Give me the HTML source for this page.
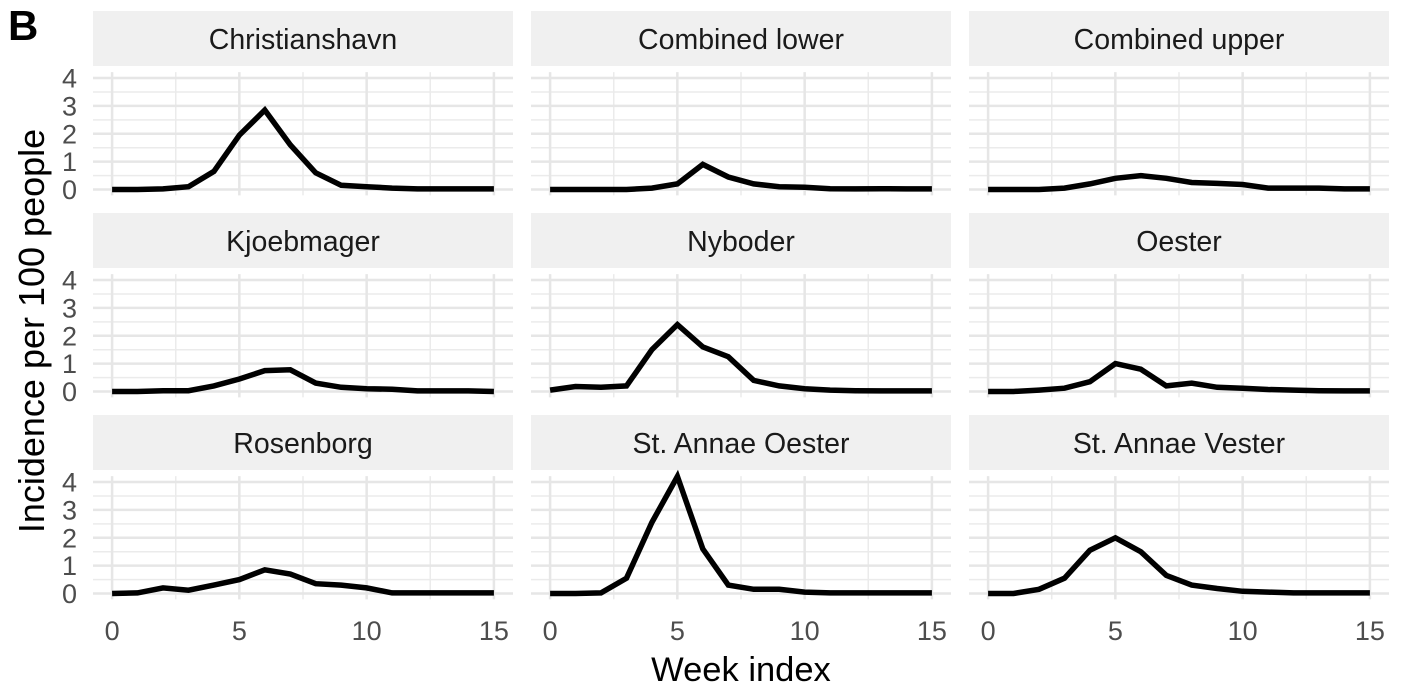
<!DOCTYPE html>
<html><head><meta charset="utf-8">
<style>
html,body{margin:0;padding:0;background:#fff;}
svg{display:block;font-family:"Liberation Sans",Arial,sans-serif;}
</style></head>
<body>
<svg id="chart" width="1412" height="688" viewBox="0 0 1412 688">
<text x="8" y="40" font-size="42" font-weight="bold" fill="#000">B</text>
<text transform="translate(44,331) rotate(-90)" text-anchor="middle" font-size="36" fill="#000">Incidence per 100 people</text>
<text x="741" y="681" text-anchor="middle" font-size="34.5" fill="#000">Week index</text>
<g id="panels"></g>
</svg>
<script>
const facetNames = ["Christianshavn","Combined lower","Combined upper","Kjoebmager","Nyboder","Oester","Rosenborg","St. Annae Oester","St. Annae Vester"];
const weeks = [0,1,2,3,4,5,6,7,8,9,10,11,12,13,14,15];
const christianshavn = [0,0,0.02,0.1,0.65,1.95,2.85,1.6,0.6,0.15,0.1,0.05,0.02,0.02,0.02,0.02];
const combinedLower = [0,0,0,0,0.05,0.2,0.9,0.45,0.2,0.1,0.08,0.03,0.02,0.03,0.02,0.02];
const combinedUpper = [0,0,0,0.05,0.2,0.4,0.5,0.4,0.25,0.22,0.18,0.05,0.05,0.05,0.02,0.02];
const kjoebmager = [0,0,0.03,0.03,0.2,0.45,0.75,0.78,0.3,0.15,0.1,0.08,0.02,0.02,0.02,0];
const nyboder = [0.05,0.18,0.15,0.2,1.5,2.4,1.6,1.25,0.4,0.2,0.1,0.05,0.03,0.02,0.02,0.02];
const oester = [0,0,0.05,0.12,0.35,1.0,0.8,0.2,0.3,0.15,0.12,0.07,0.05,0.03,0.02,0.02];
const rosenborg = [0,0.02,0.2,0.12,0.3,0.5,0.85,0.7,0.35,0.3,0.2,0.02,0.02,0.02,0.02,0.02];
const stAnnaeOester = [0,0,0.02,0.55,2.55,4.2,1.6,0.3,0.15,0.15,0.05,0.02,0.02,0.02,0.02,0.02];
const stAnnaeVester = [0,0,0.15,0.55,1.55,2.0,1.5,0.65,0.3,0.18,0.08,0.05,0.02,0.02,0.02,0.02];
const seriesList = [christianshavn,combinedLower,combinedUpper,kjoebmager,nyboder,oester,rosenborg,stAnnaeOester,stAnnaeVester];
const yTicks = [0,1,2,3,4];
const xTicks = [0,5,10,15];

const NS = "http://www.w3.org/2000/svg";
const root = document.getElementById("panels");
function mk(tag, attrs, parent){const e=document.createElementNS(NS,tag);for(const k in attrs)e.setAttribute(k,attrs[k]);parent.appendChild(e);return e;}

const colLeft = [93,531,969], panelW = 420;
const stripTop = [11,213,415], stripH = 55;
const xMin=-0.75, xMax=15.75, yMin=-0.21, yMax=4.21;

facetNames.forEach((name,i)=>{
  const c=i%3, r=Math.floor(i/3);
  const L=colLeft[c], R=L+panelW;
  const y0=stripTop[r]+178.5, y4=stripTop[r]+67;
  const unitY=(y0-y4)/4;
  const yTop=y0-(yMax)*unitY, yBot=y0-(yMin)*unitY;
  const xs=v=>L+(v-xMin)/(xMax-xMin)*panelW;
  const ys=v=>y0-v*unitY;
  const g=mk("g",{},root);
  
  
  const strip=mk("rect",{x:L,y:stripTop[r],width:panelW,height:stripH,fill:"#f0f0f0"},g);
  
  
  const st=mk("text",{x:(L+R)/2,y:stripTop[r]+38,"text-anchor":"middle","font-size":"28.5",fill:"#1a1a1a"},g);
  st.textContent=name;
  
  
  for(let v=0.5;v<4.3;v+=1){mk("line",{x1:L,x2:R,y1:ys(v),y2:ys(v),stroke:"#ebebeb","stroke-width":1.5},g);}
  [2.5,7.5,12.5].forEach(v=>mk("line",{x1:xs(v),x2:xs(v),y1:yTop,y2:yBot,stroke:"#ebebeb","stroke-width":1.5},g));
  yTicks.forEach(v=>mk("line",{x1:L,x2:R,y1:ys(v),y2:ys(v),stroke:"#e6e6e6","stroke-width":2.5},g));
  xTicks.forEach(v=>mk("line",{x1:xs(v),x2:xs(v),y1:yTop,y2:yBot,stroke:"#e6e6e6","stroke-width":2.5},g));
  if(c===0){
    yTicks.forEach(v=>{const t=mk("text",{x:L-16,y:ys(v)+9.5,"text-anchor":"end","font-size":"27",fill:"#4d4d4d"},g);t.textContent=v;
      
      });
  }
  if(r===2){
    xTicks.forEach(v=>{const t=mk("text",{x:xs(v),y:640,"text-anchor":"middle","font-size":"27",fill:"#4d4d4d"},g);t.textContent=v;
      
      });
  }
  const d=seriesList[i].map((v,k)=>(k?"L":"M")+xs(weeks[k]).toFixed(1)+","+ys(v).toFixed(1)).join(" ");
  const p=mk("path",{d:d,fill:"none",stroke:"#000","stroke-width":5.5,"stroke-linejoin":"miter","stroke-linecap":"butt"},g);
  
  
});
</script>
</body></html>
